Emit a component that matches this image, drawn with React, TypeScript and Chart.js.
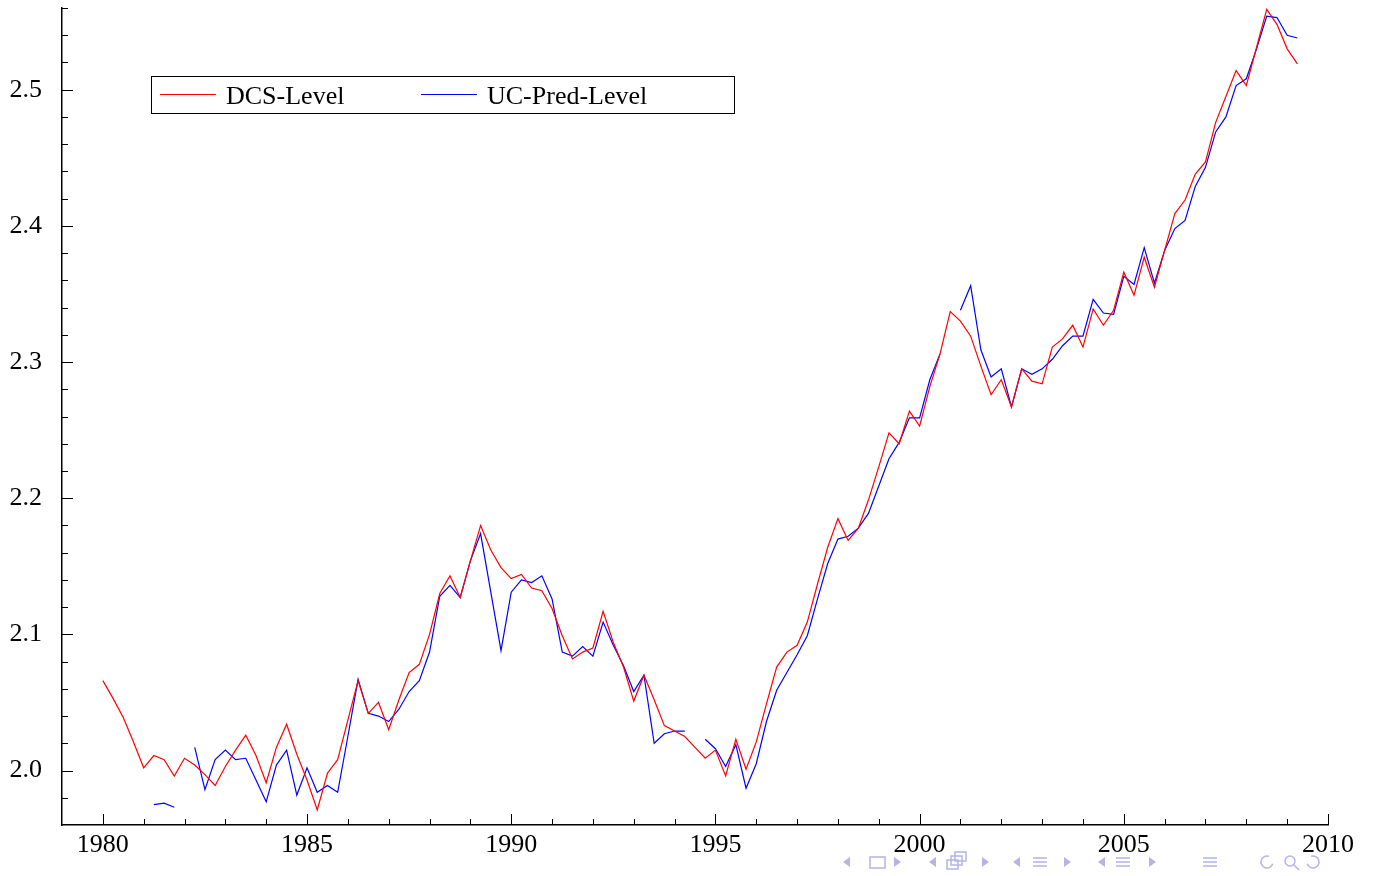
import { useEffect, useRef } from "react";
import { Chart, registerables } from "chart.js";

Chart.register(...registerables);

// Quarterly observations, first value is 1980Q1
const START_YEAR = 1980;

const dcsLevel: (number | null)[] = [
  2.066, 2.053, 2.039, 2.021,
  2.002, 2.011, 2.008, 1.996,
  2.009, 2.004, 1.997, 1.989,
  2.003, 2.015, 2.026, 2.011,
  1.991, 2.017, 2.034, 2.012,
  1.993, 1.971, 1.998, 2.008,
  2.037, 2.066, 2.042, 2.050,
  2.030, 2.052, 2.072, 2.078,
  2.100, 2.130, 2.143, 2.127,
  2.154, 2.180, 2.162, 2.149,
  2.141, 2.144, 2.134, 2.132,
  2.119, 2.099, 2.082, 2.087,
  2.090, 2.117, 2.094, 2.076,
  2.051, 2.070, 2.052, 2.033,
  2.029, 2.025, 2.017, 2.009,
  2.015, 1.996, 2.023, 2.001,
  2.021, 2.049, 2.076, 2.087,
  2.092, 2.109, 2.137, 2.164,
  2.185, 2.169, 2.178, 2.199,
  2.223, 2.248, 2.240, 2.264,
  2.253, 2.282, 2.306, 2.337,
  2.330, 2.319, 2.297, 2.276,
  2.287, 2.267, 2.295, 2.286,
  2.284, 2.311, 2.317, 2.327,
  2.311, 2.339, 2.327, 2.338,
  2.366, 2.349, 2.377, 2.355,
  2.382, 2.409, 2.419, 2.438,
  2.447, 2.476, 2.495, 2.514,
  2.503, 2.531, 2.559, 2.548,
  2.530, 2.519,
];

const ucPredLevel: (number | null)[] = [
  null, null, null, null,
  null, 1.975, 1.976, 1.973,
  null, 2.017, 1.986, 2.008,
  2.015, 2.008, 2.009, 1.993,
  1.977, 2.004, 2.015, 1.982,
  2.002, 1.984, 1.989, 1.984,
  2.025, 2.067, 2.042, 2.040,
  2.036, 2.045, 2.058, 2.066,
  2.087, 2.128, 2.136, 2.127,
  2.154, 2.174, 2.131, 2.088,
  2.131, 2.140, 2.138, 2.143,
  2.126, 2.087, 2.084, 2.091,
  2.084, 2.109, 2.092, 2.077,
  2.058, 2.070, 2.020, 2.027,
  2.029, 2.029, null, 2.023,
  2.016, 2.003, 2.019, 1.987,
  2.005, 2.036, 2.059, 2.072,
  2.085, 2.099, 2.126, 2.152,
  2.170, 2.172, 2.178, 2.189,
  2.209, 2.229, 2.241, 2.259,
  2.259, 2.287, 2.306, null,
  2.338, 2.356, 2.309, 2.289,
  2.295, 2.267, 2.295, 2.291,
  2.295, 2.302, 2.312, 2.319,
  2.319, 2.346, 2.336, 2.335,
  2.363, 2.357, 2.384, 2.358,
  2.382, 2.398, 2.404, 2.429,
  2.443, 2.469, 2.480, 2.503,
  2.508, 2.530, 2.554, 2.553,
  2.540, 2.538,
];

const seriesNames = ["DCS-Level", "UC-Pred-Level"];
const seriesColors = ["#ff0000", "#0000ff"];

const xTickLabels = [1980, 1985, 1990, 1995, 2000, 2005, 2010];
const yTickLabels = [2.0, 2.1, 2.2, 2.3, 2.4, 2.5];

const X_MIN = 1979;
const X_MAX = 2010;
const Y_MIN = 1.96;
const Y_MAX = 2.56;

const SERIF = "'Liberation Serif', 'Times New Roman', serif";

const toPoints = (vals: (number | null)[]) =>
  vals.map((v, i) => ({ x: START_YEAR + i / 4, y: v }));

// Tick marks drawn inward from the axis lines (major + minor)
const innerTicksPlugin = {
  id: "innerTicks",
  afterDraw(chart: any) {
    const { ctx, chartArea: a, scales } = chart;
    const xs = scales.x;
    const ys = scales.y;
    ctx.save();
    ctx.strokeStyle = "#000";
    ctx.lineWidth = 1;
    ctx.beginPath();
    for (let yr = X_MIN + 1; yr <= X_MAX; yr++) {
      const px = Math.round(xs.getPixelForValue(yr)) + 0.5;
      const len = yr % 5 === 0 ? 11 : 6;
      ctx.moveTo(px, a.bottom);
      ctx.lineTo(px, a.bottom - len);
    }
    for (let k = 1; k <= 30; k++) {
      const v = Y_MIN + k * 0.02;
      const py = Math.round(ys.getPixelForValue(v)) + 0.5;
      const len = k % 5 === 2 ? 11 : 6;
      ctx.moveTo(a.left, py);
      ctx.lineTo(a.left + len, py);
    }
    ctx.stroke();
    ctx.restore();
  },
};

// Boxed legend placed inside the plot area
const boxLegendPlugin = {
  id: "boxLegend",
  afterDraw(chart: any) {
    const { ctx } = chart;
    ctx.save();
    ctx.strokeStyle = "#000";
    ctx.lineWidth = 1;
    ctx.strokeRect(151.5, 76.5, 583, 37);
    const entries = [
      { x: 160, name: seriesNames[0], color: seriesColors[0] },
      { x: 421, name: seriesNames[1], color: seriesColors[1] },
    ];
    ctx.font = `26px ${SERIF}`;
    ctx.textBaseline = "middle";
    ctx.fillStyle = "#000";
    for (const e of entries) {
      ctx.strokeStyle = e.color;
      ctx.beginPath();
      ctx.moveTo(e.x, 94.5);
      ctx.lineTo(e.x + 56, 94.5);
      ctx.stroke();
      ctx.fillText(e.name, e.x + 66, 97);
    }
    ctx.restore();
  },
};

// Presentation navigation glyphs along the lower right edge
const navGlyphsPlugin = {
  id: "navGlyphs",
  afterDraw(chart: any) {
    const { ctx } = chart;
    const cy = 862;
    const col = "#b4b4e6";
    ctx.save();
    ctx.fillStyle = col;
    ctx.strokeStyle = col;
    ctx.lineWidth = 1.5;
    const triL = (cx: number) => {
      ctx.beginPath();
      ctx.moveTo(cx - 4, cy);
      ctx.lineTo(cx + 3, cy - 5);
      ctx.lineTo(cx + 3, cy + 5);
      ctx.closePath();
      ctx.fill();
    };
    const triR = (cx: number) => {
      ctx.beginPath();
      ctx.moveTo(cx + 4, cy);
      ctx.lineTo(cx - 3, cy - 5);
      ctx.lineTo(cx - 3, cy + 5);
      ctx.closePath();
      ctx.fill();
    };
    const bars = (cx: number) => {
      ctx.beginPath();
      for (let k = -1; k <= 1; k++) {
        ctx.moveTo(cx - 7, cy + k * 4);
        ctx.lineTo(cx + 7, cy + k * 4);
      }
      ctx.stroke();
    };
    triL(847);
    ctx.strokeRect(870, cy - 5, 15, 11);
    triR(897);
    triL(933);
    ctx.strokeRect(947, cy - 2, 11, 9);
    ctx.strokeRect(951, cy - 6, 11, 9);
    ctx.strokeRect(955, cy - 10, 11, 9);
    triR(985);
    triL(1017);
    bars(1040);
    triR(1067);
    triL(1102);
    bars(1123);
    triR(1152);
    bars(1210);
    ctx.beginPath();
    ctx.arc(1267, cy, 6, Math.PI * 0.1, Math.PI * 1.6);
    ctx.stroke();
    ctx.beginPath();
    ctx.arc(1290, cy - 1, 5, 0, Math.PI * 2);
    ctx.moveTo(1294, cy + 3);
    ctx.lineTo(1299, cy + 8);
    ctx.stroke();
    ctx.beginPath();
    ctx.arc(1313, cy, 6, Math.PI * 1.4, Math.PI * 2.9);
    ctx.stroke();
    ctx.restore();
  },
};

export default function App() {
  const canvasRef = useRef<HTMLCanvasElement | null>(null);

  useEffect(() => {
    const canvas = canvasRef.current;
    if (!canvas) return;
    const chart = new Chart(canvas, {
      type: "line",
      data: {
        datasets: [
          {
            label: seriesNames[0],
            data: toPoints(dcsLevel),
            borderColor: seriesColors[0],
            backgroundColor: seriesColors[0],
            borderWidth: 1.2,
            pointRadius: 0,
            tension: 0,
            spanGaps: false,
          },
          {
            label: seriesNames[1],
            data: toPoints(ucPredLevel),
            borderColor: seriesColors[1],
            backgroundColor: seriesColors[1],
            borderWidth: 1.2,
            pointRadius: 0,
            tension: 0,
            spanGaps: false,
          },
        ],
      },
      options: {
        responsive: false,
        animation: false,
        devicePixelRatio: 1,
        layout: { padding: { top: 8, right: 47, left: 0, bottom: 0 } },
        plugins: {
          legend: { display: false },
          tooltip: { enabled: false },
        },
        scales: {
          x: {
            type: "linear",
            min: X_MIN,
            max: X_MAX,
            grid: { display: false },
            border: { display: true, color: "#000", width: 1.5 },
            afterBuildTicks: (s: any) => {
              s.ticks = xTickLabels.map((v) => ({ value: v }));
            },
            afterFit: (s: any) => {
              s.height = 51;
              s.paddingLeft = 0;
              s.paddingRight = 0;
            },
            ticks: {
              color: "#000",
              padding: -3,
              maxRotation: 0,
              autoSkip: false,
              font: { family: SERIF, size: 26 },
              callback: (v: any) => String(v),
            },
          },
          y: {
            type: "linear",
            min: Y_MIN,
            max: Y_MAX,
            grid: { display: false },
            border: { display: true, color: "#000", width: 1.5 },
            afterBuildTicks: (s: any) => {
              s.ticks = yTickLabels.map((v) => ({ value: v }));
            },
            afterFit: (s: any) => {
              s.width = 62;
              s.paddingTop = 0;
              s.paddingBottom = 0;
            },
            ticks: {
              color: "#000",
              padding: 12,
              autoSkip: false,
              font: { family: SERIF, size: 26 },
              callback: (v: any) => Number(v).toFixed(1),
            },
          },
        },
      },
      plugins: [innerTicksPlugin, boxLegendPlugin, navGlyphsPlugin],
    });
    return () => chart.destroy();
  }, []);

  return (
    <div
      style={{
        position: "fixed",
        left: 0,
        top: 0,
        width: 1375,
        height: 876,
        background: "#fff",
      }}
    >
      <canvas ref={canvasRef} width={1375} height={876} />
    </div>
  );
}
